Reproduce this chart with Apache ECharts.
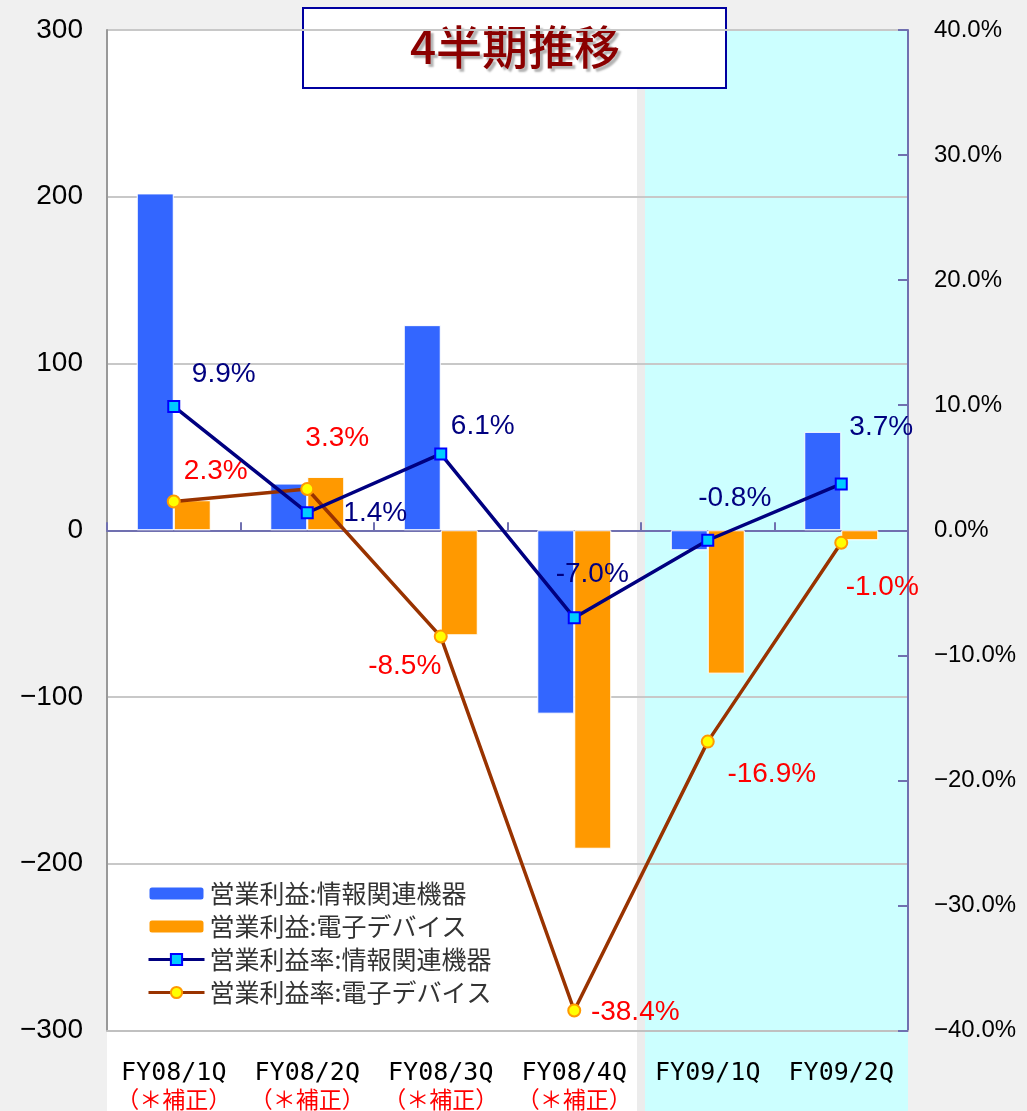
<!DOCTYPE html>
<html>
<head>
<meta charset="utf-8">
<script src="https://cdn.jsdelivr.net/npm/echarts@6/dist/echarts.min.js"></script>
<style>
  html, body { margin: 0; padding: 0; background: #f0f0f0; }
  #main { width: 1027px; height: 1111px; }
</style>
</head>
<body>
<div id="main"></div>
<script>
    var categories = ['FY08/1Q', 'FY08/2Q', 'FY08/3Q', 'FY08/4Q', 'FY09/1Q', 'FY09/2Q'];
    var revised = [true, true, true, true, false, false];
    var infoProfit = [202, 28, 123, -110, -12, 59];
    var deviceProfit = [18, 32, -63, -191, -86, -6];
    var infoRate = [9.9, 1.4, 6.1, -7.0, -0.8, 3.7];
    var deviceRate = [2.3, 3.3, -8.5, -38.4, -16.9, -1.0];
    var names = ['営業利益:情報関連機器', '営業利益:電子デバイス', '営業利益率:情報関連機器', '営業利益率:電子デバイス'];

    // where each rate label sits relative to its point
    var infoLabelOffset = [[50, -32], [68, 1], [42, -28], [18, -44], [27, -42], [40, -57]];
    var deviceLabelOffset = [[42, -30], [30, -51], [-36, 30], [61, 2], [64, 33], [41, 45]];

    function pct(v) {
        return v.toFixed(1) + '%';
    }
    function minus(s) {
        return String(s).replace('-', '\u2212');
    }

    var myChart = echarts.init(document.getElementById('main'));

    var option = {
        backgroundColor: '#f0f0f0',
        animation: false,
        grid: { left: 107, right: 119, top: 30, bottom: 79 },
        graphic: [
            { type: 'rect', z: -10, shape: { x: 107, y: 30, width: 530, height: 1081 }, style: { fill: '#ffffff' } },
            { type: 'rect', z: -10, shape: { x: 637, y: 30, width: 8, height: 1081 }, style: { fill: '#ececec' } },
            { type: 'rect', z: -10, shape: { x: 645, y: 30, width: 263, height: 1081 }, style: { fill: '#ccffff' } },
            {
                type: 'group', z: 100,
                children: [
                    { type: 'rect', shape: { x: 303, y: 8, width: 423, height: 80 }, style: { fill: '#ffffff', stroke: '#0000a0', lineWidth: 2 } },
                    {
                        type: 'text', x: 515, y: 47,
                        style: {
                            text: '4半期推移', fill: '#8b0000',
                            font: '500 46px "Noto Sans CJK JP"',
                            align: 'center', verticalAlign: 'middle',
                            textShadowColor: 'rgba(0,0,0,0.3)', textShadowOffsetX: 3, textShadowOffsetY: 3, textShadowBlur: 2
                        }
                    }
                ]
            }
        ],
        legend: {
            left: 142, top: 876,
            orient: 'vertical',
            itemWidth: 56, itemHeight: 14, itemGap: 8,
            lineStyle: { width: 3 },
            textStyle: { fontFamily: 'Noto Sans CJK JP', fontSize: 25, color: '#333' },
            data: names
        },
        xAxis: [
            {
                type: 'category',
                data: categories,
                position: 'bottom',
                axisLine: { onZero: false, lineStyle: { color: '#c0c0c0', width: 2 } },
                axisTick: { show: false },
                axisLabel: {
                    margin: 29,
                    formatter: function (v, i) {
                        return '{a|' + v + '}\n{b|' + (revised[i] ? '（＊補正）' : ' ') + '}';
                    },
                    rich: {
                        a: { fontFamily: 'DejaVu Sans Mono', fontSize: 25, color: '#000', lineHeight: 27 },
                        b: { fontFamily: 'Noto Sans CJK JP', fontSize: 23, color: '#ff0000', lineHeight: 26 }
                    }
                }
            },
            {
                type: 'category',
                data: categories,
                position: 'bottom',
                axisLine: { onZero: true, onZeroAxisIndex: 0, lineStyle: { color: '#7070b0', width: 2 } },
                axisTick: { show: true, inside: true, length: 8, lineStyle: { color: '#7070b0', width: 2 } },
                axisLabel: { show: false }
            }
        ],
        yAxis: [
            {
                type: 'value',
                min: -300, max: 300, interval: 100,
                axisLine: { show: true, lineStyle: { color: '#999', width: 2 } },
                axisTick: { show: false },
                splitLine: { lineStyle: { color: '#c8c8c8', width: 2 } },
                axisLabel: {
                    margin: 24, color: '#000', fontFamily: 'Liberation Sans', fontSize: 28,
                    formatter: function (v) { return minus(v); }
                }
            },
            {
                type: 'value',
                min: -40, max: 40, interval: 10,
                axisLine: { show: true, lineStyle: { color: '#7070b0', width: 2 } },
                axisTick: { show: true, inside: true, length: 10, lineStyle: { color: '#7070b0', width: 2 } },
                splitLine: { show: false },
                axisLabel: {
                    margin: 26, color: '#000', fontFamily: 'Liberation Sans', fontSize: 24,
                    formatter: function (v) { return minus(pct(v)); }
                }
            }
        ],
        series: [
            {
                name: names[0],
                type: 'bar',
                barWidth: 37, barGap: '0%',
                itemStyle: { color: '#3366ff', borderColor: '#ffffff', borderWidth: 1 },
                data: infoProfit
            },
            {
                name: names[1],
                type: 'bar',
                barWidth: 37, barGap: '0%',
                itemStyle: { color: '#ff9900', borderColor: '#ffffff', borderWidth: 1 },
                data: deviceProfit
            },
            {
                name: names[2],
                type: 'line',
                yAxisIndex: 1,
                symbol: 'rect', symbolSize: 11,
                lineStyle: { color: '#000080', width: 3.5 },
                itemStyle: { color: '#00ccff', borderColor: '#0000ff', borderWidth: 2 },
                label: {
                    show: true, position: 'inside', color: '#000080',
                    fontFamily: 'Liberation Sans', fontSize: 28,
                    formatter: function (p) { return pct(p.value); }
                },
                z: 5,
                data: infoRate.map(function (v, i) {
                    return { value: v, label: { offset: infoLabelOffset[i] } };
                })
            },
            {
                name: names[3],
                type: 'line',
                yAxisIndex: 1,
                symbol: 'circle', symbolSize: 12,
                lineStyle: { color: '#993300', width: 3.5 },
                itemStyle: { color: '#ffff00', borderColor: '#ff9900', borderWidth: 2 },
                label: {
                    show: true, position: 'inside', color: '#ff0000',
                    fontFamily: 'Liberation Sans', fontSize: 28,
                    formatter: function (p) { return pct(p.value); }
                },
                z: 4,
                data: deviceRate.map(function (v, i) {
                    return { value: v, label: { offset: deviceLabelOffset[i] } };
                })
            }
        ]
    };
    myChart.setOption(option);
</script>
</body>
</html>
